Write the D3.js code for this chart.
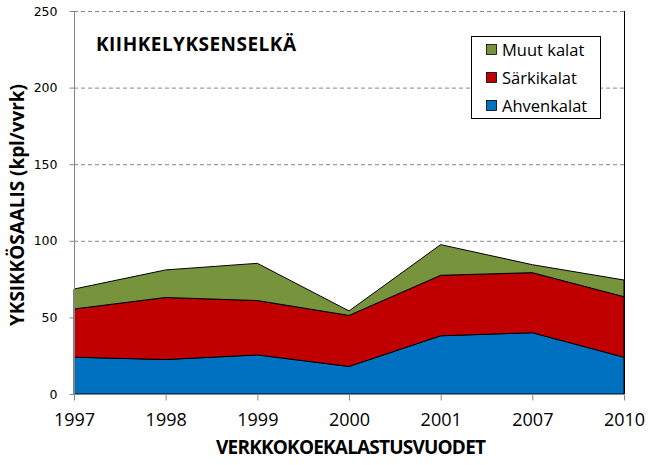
<!DOCTYPE html>
<html><head><meta charset="utf-8">
<script src="https://cdn.jsdelivr.net/npm/d3@7"></script>
<style>body{margin:0;background:#fff}svg{display:block}</style>
</head><body>
<script>
const years = ["1997","1998","1999","2000","2001","2007","2010"];
const ahvenkalat = [24, 22.5, 25.5, 18, 38, 40, 24];
const sarkikalat = [31.5, 40.5, 35.5, 33.3, 39.5, 39.2, 39.5];
const muutkalat = [13, 18, 24.3, 2.9, 20, 5.2, 10.9];
const seriesNames = ["Ahvenkalat","Särkikalat","Muut kalat"];
const seriesColors = ["#0070C0","#C00000","#77933C"];
const yTicks = [0,50,100,150,200,250];

const W=654,H=465;
const m={left:74,right:624,top:11,bottom:394};
const svg=d3.select("body").append("svg").attr("width",W).attr("height",H);
const x=d3.scalePoint().domain(years).range([m.left,m.right]);
const y=d3.scaleLinear().domain([0,250]).range([m.bottom,m.top]);

const rows=years.map((yr,i)=>({year:yr,"Ahvenkalat":ahvenkalat[i],"Särkikalat":sarkikalat[i],"Muut kalat":muutkalat[i]}));
const stack=d3.stack().keys(seriesNames)(rows);

// gridlines
svg.append("g").selectAll("line").data(yTicks.filter(t=>t>0)).join("line")
 .attr("x1",m.left).attr("x2",m.right).attr("y1",d=>y(d)+0.5).attr("y2",d=>y(d)+0.5)
 .attr("stroke","#868686").attr("stroke-dasharray","4,3").attr("stroke-width",1);

const area=d3.area().x(d=>x(d.data.year)).y0(d=>y(d[0])).y1(d=>y(d[1]));
svg.append("g").selectAll("path").data(stack).join("path")
 .attr("d",area).attr("fill",(d,i)=>seriesColors[i]).attr("stroke","#000").attr("stroke-width",1).attr("stroke-linejoin","round");

// right border
svg.append("line").attr("x1",m.right+0.5).attr("x2",m.right+0.5).attr("y1",m.top).attr("y2",m.bottom).attr("stroke","#000");

// y axis
const ya=svg.append("g").attr("transform",`translate(${m.left+0.5},0)`)
 .call(d3.axisLeft(y).tickValues(yTicks).tickSize(5).tickPadding(12));
ya.select(".domain").attr("stroke","#868686").attr("d",`M0,${m.top}V${m.bottom}`);
ya.selectAll(".tick line").attr("stroke","#868686");
ya.selectAll("text").attr("font-family","DejaVu Sans").attr("font-size","12.5px").attr("fill","#000");

// x axis
const xa=svg.append("g").attr("transform",`translate(0,${m.bottom+0.5})`)
 .call(d3.axisBottom(x).tickSize(6).tickPadding(13));
xa.select(".domain").attr("stroke","#868686").attr("d",`M${m.left},0H${m.right}`);
xa.selectAll(".tick line").attr("stroke","#868686");
xa.selectAll("text").attr("font-family","Open Sans, Liberation Sans").attr("font-size","18px").attr("fill","#000");

// titles
svg.append("text").attr("x",96).attr("y",51).text("KIIHKELYKSENSELKÄ")
 .attr("font-family","Open Sans").attr("font-weight","bold").attr("font-size","19px")
 .attr("textLength",200).attr("lengthAdjust","spacing");
svg.append("text").attr("x",351).attr("y",454).attr("text-anchor","middle").text("VERKKOKOEKALASTUSVUODET")
 .attr("font-family","Open Sans").attr("font-weight","bold").attr("font-size","19px")
 .attr("textLength",270).attr("lengthAdjust","spacing");
svg.append("text").attr("transform","translate(24,205) rotate(-90)").attr("text-anchor","middle").text("YKSIKKÖSAALIS (kpl/vvrk)")
 .attr("font-family","Open Sans").attr("font-weight","bold").attr("font-size","19px")
 .attr("textLength",242).attr("lengthAdjust","spacing");

// legend
const lg=svg.append("g");
lg.append("rect").attr("x",471.5).attr("y",36.5).attr("width",129).attr("height",82).attr("fill","#fff").attr("stroke","#000");
const legItems=[2,1,0];
legItems.forEach((si,k)=>{
  const cy=49.5+k*28;
  lg.append("rect").attr("x",486.5).attr("y",cy-5).attr("width",10).attr("height",10).attr("fill",seriesColors[si]).attr("stroke","#000").attr("stroke-width",0.8);
  lg.append("text").attr("x",502).attr("y",cy+6).text(seriesNames[si])
   .attr("font-family","Open Sans").attr("font-size","16.5px");
});
</script>
</body></html>
